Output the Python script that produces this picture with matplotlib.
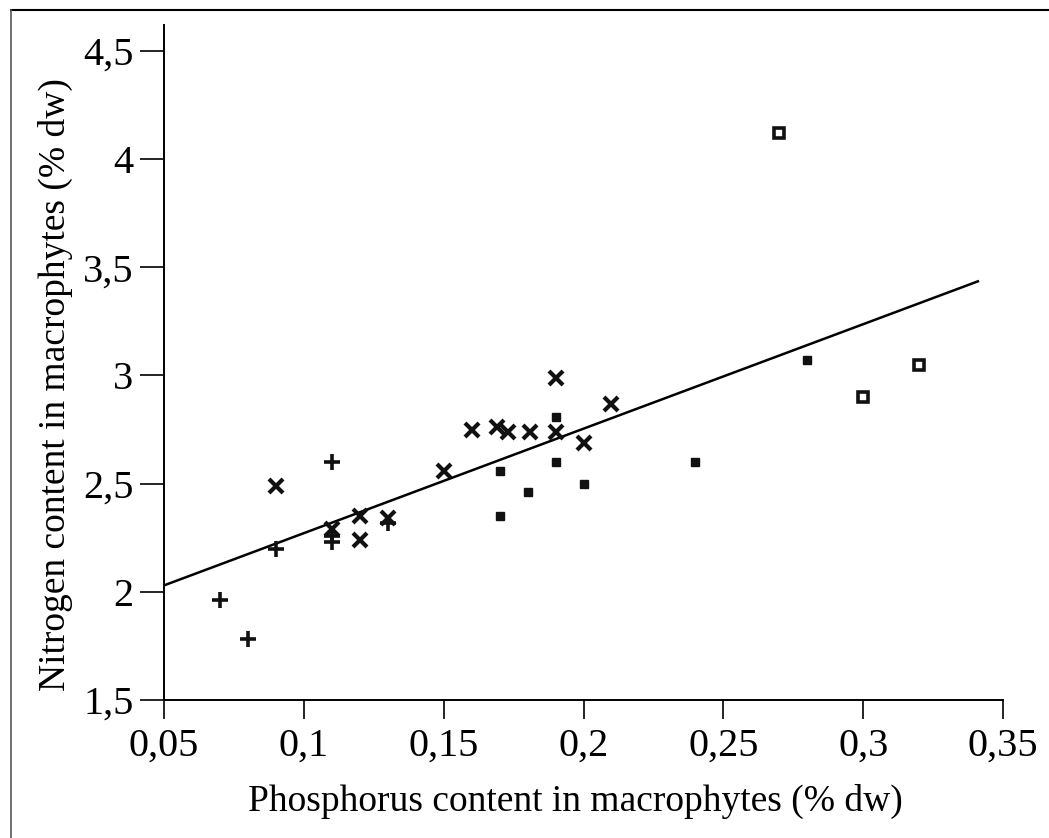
import matplotlib
matplotlib.use('Agg')
import matplotlib.pyplot as plt
import numpy as np

# groups
plus_p = [0.07, 0.08, 0.09, 0.11, 0.11, 0.11, 0.13]
plus_n = [1.96, 1.78, 2.20, 2.60, 2.23, 2.26, 2.32]

cross_p = [0.09, 0.11, 0.12, 0.12, 0.13, 0.15, 0.16, 0.169, 0.173, 0.181, 0.19, 0.19, 0.20, 0.21]
cross_n = [2.49, 2.29, 2.35, 2.24, 2.34, 2.56, 2.75, 2.76, 2.74, 2.74, 2.99, 2.74, 2.69, 2.87]

fill_p = [0.17, 0.17, 0.18, 0.19, 0.19, 0.20, 0.24, 0.28]
fill_n = [2.56, 2.35, 2.46, 2.81, 2.60, 2.50, 2.60, 3.07]

open_p = [0.27, 0.30, 0.32]
open_n = [4.12, 2.90, 3.05]

# regression line
fit_slope = 4.83
fit_intercept = 1.788
fit_range = [0.05, 0.341]

xticks = [0.05, 0.1, 0.15, 0.2, 0.25, 0.3, 0.35]
xlabels = ['0,05', '0,1', '0,15', '0,2', '0,25', '0,3', '0,35']
yticks = [1.5, 2, 2.5, 3, 3.5, 4, 4.5]
ylabels = ['1,5', '2', '2,5', '3', '3,5', '4', '4,5']

plt.rcParams['font.family'] = ['Liberation Serif', 'DejaVu Serif']

fig = plt.figure(figsize=(10.49, 8.38), dpi=100)
ax = fig.add_axes([0.1563, 0.1647, 0.7999, 0.8055])

xf = np.array(fit_range)
ax.plot(xf, fit_intercept + fit_slope * xf, color='black', lw=1.8, zorder=2)

ax.plot(plus_p, plus_n, linestyle='none', marker='+', ms=12, mew=2.6, color='#111111', zorder=3)
ax.plot(cross_p, cross_n, linestyle='none', marker='x', ms=10, mew=3, color='#111111', zorder=3)
ax.plot(fill_p, fill_n, linestyle='none', marker='s', ms=5.5, color='#111111', zorder=3)
ax.plot(open_p, open_n, linestyle='none', marker='s', ms=7.5, mew=2.6,
        markerfacecolor='white', markeredgecolor='#111111', zorder=3)

ax.set_xlim(0.05, 0.35)
ax.set_ylim(1.5, 4.62)
ax.set_xticks(xticks)
ax.set_xticklabels(xlabels)
ax.set_yticks(yticks)
ax.set_yticklabels(ylabels)

ax.spines['top'].set_visible(False)
ax.spines['right'].set_visible(False)
ax.spines['left'].set_linewidth(1.4)
ax.spines['bottom'].set_linewidth(1.4)
ax.spines['bottom'].set_bounds(0.05, 0.35)
ax.tick_params(axis='both', labelsize=29, width=1.2, color='black')
ax.tick_params(axis='y', direction='out', length=17, pad=5)
ax.tick_params(axis='x', direction='out', length=14, pad=6)

ax.set_xlabel('Phosphorus content in macrophytes (% dw)', fontsize=27)
ax.set_ylabel('Nitrogen content in macrophytes (% dw)', fontsize=27)
ax.xaxis.set_label_coords(0.49, -0.125)
ax.yaxis.set_label_coords(-0.108, 0.467)

# outer frame (top and left edges)
fig.add_artist(plt.Line2D([0.0105, 1.0], [0.988, 0.988], transform=fig.transFigure, color='black', lw=1.5))
fig.add_artist(plt.Line2D([0.0105, 0.0105], [0.0, 0.988], transform=fig.transFigure, color='#555555', lw=1.2))

plt.savefig('out.png', dpi=100)
